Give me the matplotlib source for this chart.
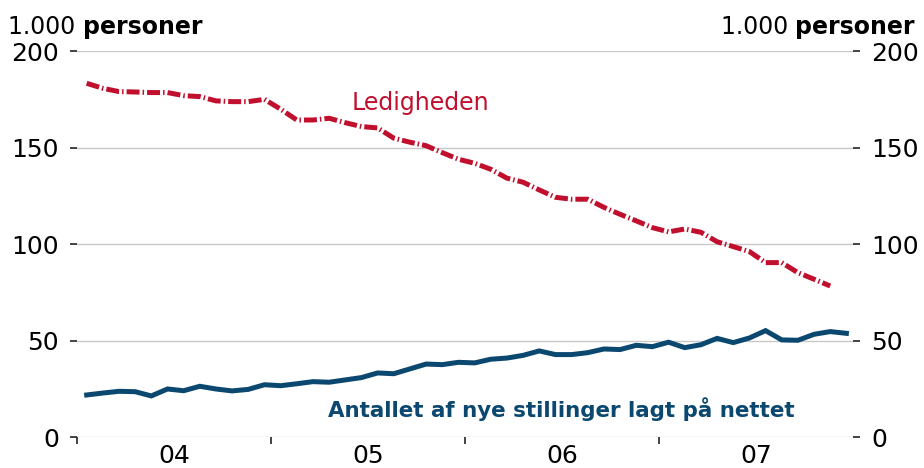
import numpy as np
import matplotlib
matplotlib.use("Agg")
import matplotlib.pyplot as plt

# monthly values, jan 2004 -> dec 2007 (1.000 personer)
ledighed = [183.3, 180.7, 179.0, 178.8, 178.5, 178.5, 176.9, 176.4, 174.2, 173.8,
            173.8, 175.0, 169.9, 164.3, 164.3, 165.2, 162.9, 160.9, 160.2, 154.9,
            152.8, 151.0, 147.4, 144.0, 141.9, 138.8, 134.2, 132.1, 128.1, 124.3,
            123.3, 123.3, 119.1, 115.5, 112.1, 108.6, 106.4, 107.9, 106.2, 101.3,
            98.8, 96.2, 90.5, 90.5, 85.3, 81.9, 78.4]
stillinger = [22.0, 23.0, 23.9, 23.7, 21.5, 25.1, 24.2, 26.5, 25.1, 24.1,
              24.9, 27.3, 26.8, 27.8, 28.9, 28.6, 29.8, 31.0, 33.4, 33.0,
              35.5, 38.0, 37.7, 38.9, 38.6, 40.5, 41.1, 42.5, 44.8, 42.9,
              42.9, 43.9, 45.8, 45.5, 47.7, 47.0, 49.3, 46.5, 48.0, 51.3,
              49.1, 51.5, 55.3, 50.5, 50.3, 53.4, 54.8, 53.9]
year_labels = ["04", "05", "06", "07"]
y_ticks = [0, 50, 100, 150, 200]

RED = "#c0102e"
BLUE = "#0b4870"
FS = 18

fig = plt.figure(figsize=(9.24, 4.68), dpi=100)
ax = fig.add_axes([0.0833, 0.0652, 0.8397, 0.8258])

x_red = np.arange(len(ledighed)) + 0.6
x_blue = np.arange(len(stillinger)) + 0.6

ax.plot(x_red, ledighed, color=RED, lw=3.6, solid_capstyle="butt",
        dash_capstyle="butt", linestyle=(0, (2.6, 0.6, 0.3, 0.6)), zorder=3)
ax.plot(x_blue, stillinger, color=BLUE, lw=3.6, solid_joinstyle="miter", zorder=3)

ax.set_xlim(0, 48)
ax.set_ylim(0, 200)

for s in ax.spines.values():
    s.set_visible(False)

ax.set_yticks(y_ticks)
ax.yaxis.grid(True, color="#c8c8c8", lw=1)
ax.set_axisbelow(True)
ax.tick_params(axis="y", which="both", left=True, right=True, labelleft=True,
               labelright=True, length=5, width=1.2, pad=8, labelsize=FS,
               color="#222222")

ax.set_xticks([0, 12, 24, 36])
ax.set_xticklabels([])
ax.set_xticks([6, 18, 30, 42], minor=True)
ax.set_xticklabels(year_labels, minor=True)
ax.tick_params(axis="x", which="major", length=5, width=1.2, color="#222222")
ax.tick_params(axis="x", which="minor", length=0, pad=5, labelsize=FS)

# units headers
HS = 17
fig.text(0.009, 0.928, "1.000 ", fontsize=HS, ha="left", va="baseline")
t = fig.text(0.009, 0.928, "1.000 ", fontsize=HS, ha="left", va="baseline", alpha=0)
fig.canvas.draw()
bb = t.get_window_extent().transformed(fig.transFigure.inverted())
fig.text(bb.x1, 0.928, "personer", fontsize=HS, fontweight="bold", ha="left", va="baseline")

r = fig.text(0.990, 0.928, "personer", fontsize=HS, fontweight="bold", ha="right", va="baseline")
fig.canvas.draw()
bb = r.get_window_extent().transformed(fig.transFigure.inverted())
fig.text(bb.x0, 0.928, "1.000 ", fontsize=HS, ha="right", va="baseline")

ax.text(17.0, 173, "Ledigheden", color=RED, fontsize=17, fontweight="medium",
        ha="left", va="center")
ax.text(15.5, 14.5, "Antallet af nye stillinger lagt på nettet", color=BLUE,
        fontsize=15.4, fontweight="bold", ha="left", va="center")

fig.savefig("out.png", dpi=100)
